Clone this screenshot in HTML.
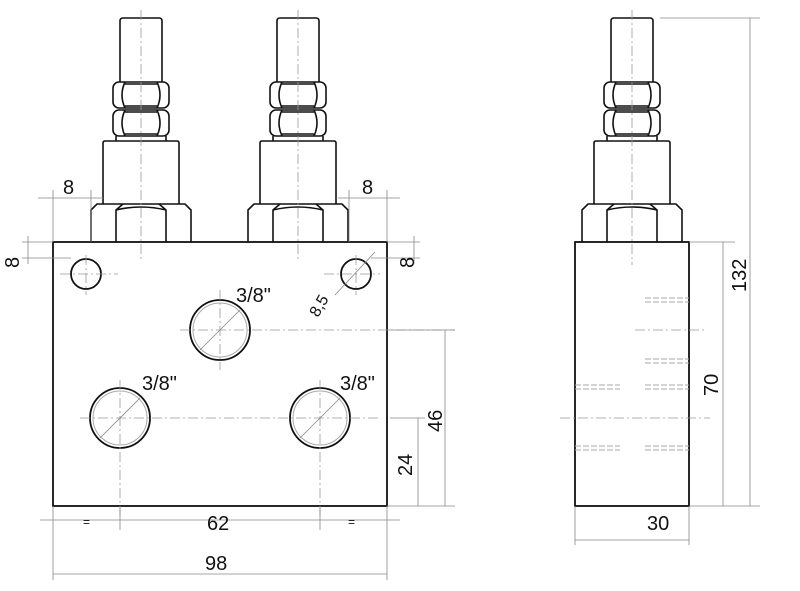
<!DOCTYPE html><html><head><style>body{margin:0;background:#fff}svg{display:block}text{font-family:"Liberation Sans",sans-serif;fill:#111}</style></head><body>
<svg width="800" height="591" viewBox="0 0 800 591" xmlns="http://www.w3.org/2000/svg">
<defs>
<g id="valve" fill="none" stroke="#111" stroke-width="1.6">
<path d="M-21,82 V21 Q-21,18 -18,18 H18 Q21,18 21,21 V82"/>
<path d="M-25,136 V141 M25,136 V141"/>
<rect x="-28" y="82" width="56" height="26" rx="6"/><rect x="-28" y="110" width="56" height="26" rx="6"/>
<path d="M-16,82 Q-22,95 -16,108 M16,82 Q22,95 16,108 M-16,84 H16 M-16,106 H16"/>
<path d="M-16,110 Q-22,123 -16,136 M16,110 Q22,123 16,136 M-16,112 H16 M-16,134 H16"/>
<path d="M-38,204 V143 Q-38,141 -36,141 H36 Q38,141 38,143 V204"/>
<path d="M-50,242 V210 L-44,204 H44 L50,210 V242"/>
<path d="M-25,242 V210 L-18,204 M25,242 V210 L18,204 M-25,210 Q0,204 25,210"/>
</g>
</defs>
<use href="#valve" x="141"/><use href="#valve" x="298"/><use href="#valve" x="632"/>
<g fill="#fff" stroke="#111" stroke-width="1.8">
<rect x="53" y="242" width="334" height="264"/>
<rect x="575" y="242" width="114" height="264"/>
<circle cx="86" cy="274" r="15"/><circle cx="356" cy="274" r="15"/>
<circle cx="220" cy="330" r="30"/><circle cx="120" cy="418" r="30"/><circle cx="320" cy="418" r="30"/>
</g>
<g stroke="#999" stroke-width="0.8" stroke-dasharray="10,3,2,3" fill="none">
<path d="M141,10 V260 M298,10 V260 M632,10 V265"/>
<path d="M60,274 H118 M324,274 H380 M86,255 V295 M356,255 V295"/>
<path d="M180,330 H455 M220,290 V370 M80,418 H380 M120,380 V520 M320,380 V520"/>
<path d="M560,418 H710 M635,330 H705"/>
</g>
<g fill="none" stroke="#aaa" stroke-width="1">
<circle cx="220" cy="330" r="27"/><circle cx="120" cy="418" r="27"/><circle cx="320" cy="418" r="27"/>
<path d="M645,298 H689 M645,302 H689 M645,359 H689 M645,363 H689 M575,385 H620 M575,389 H620 M645,385 H689 M645,389 H689 M575,446 H620 M575,450 H620 M645,446 H689 M645,450 H689" stroke-dasharray="6,2"/>
</g>
<g stroke="#888" stroke-width="0.8" fill="none">
<path d="M200,350 L240,310 M100,438 L140,398 M300,438 L340,398 M335,295 L375,252"/>
<path d="M53,506 V580 M387,506 V580 M120,506 V530 M320,506 V530 M40,520 H400 M53,574 H387"/>
<path d="M387,330 H455 M387,506 H455 M418,418 V506 M445,330 V506 M390,418 H425"/>
<path d="M689,242 H735 M689,506 H760 M660,18 H760 M723,242 V506 M750,18 V506"/>
<path d="M575,506 V545 M689,506 V545 M575,540 H689"/>
<path d="M38,198 H103 M53,190 V242 M91,190 V242 M338,198 H400 M349,190 V242 M387,190 V242"/>
<path d="M22,242 H53 M22,258 H71 M28,236 V264 M387,242 H420 M371,258 H420 M414,236 V264"/>
</g>
<g font-size="20">
<text x="63" y="194">8</text><text x="362" y="194">8</text>
<text x="236" y="302">3/8"</text><text x="142" y="390">3/8"</text><text x="340" y="390">3/8"</text>
<text x="207" y="530">62</text><text x="205" y="570">98</text><text x="647" y="530">30</text>
<text x="83" y="526" font-size="12">=</text><text x="348" y="526" font-size="12">=</text>
<text transform="translate(19,268) rotate(-90)">8</text>
<text transform="translate(414,268) rotate(-90)">8</text>
<text transform="translate(412,476) rotate(-90)">24</text>
<text transform="translate(442,432) rotate(-90)">46</text>
<text transform="translate(718,396) rotate(-90)">70</text>
<text transform="translate(746,292) rotate(-90)">132</text>
<text transform="translate(318,318) rotate(-60)" font-size="16">8,5</text>
</g>
</svg></body></html>
